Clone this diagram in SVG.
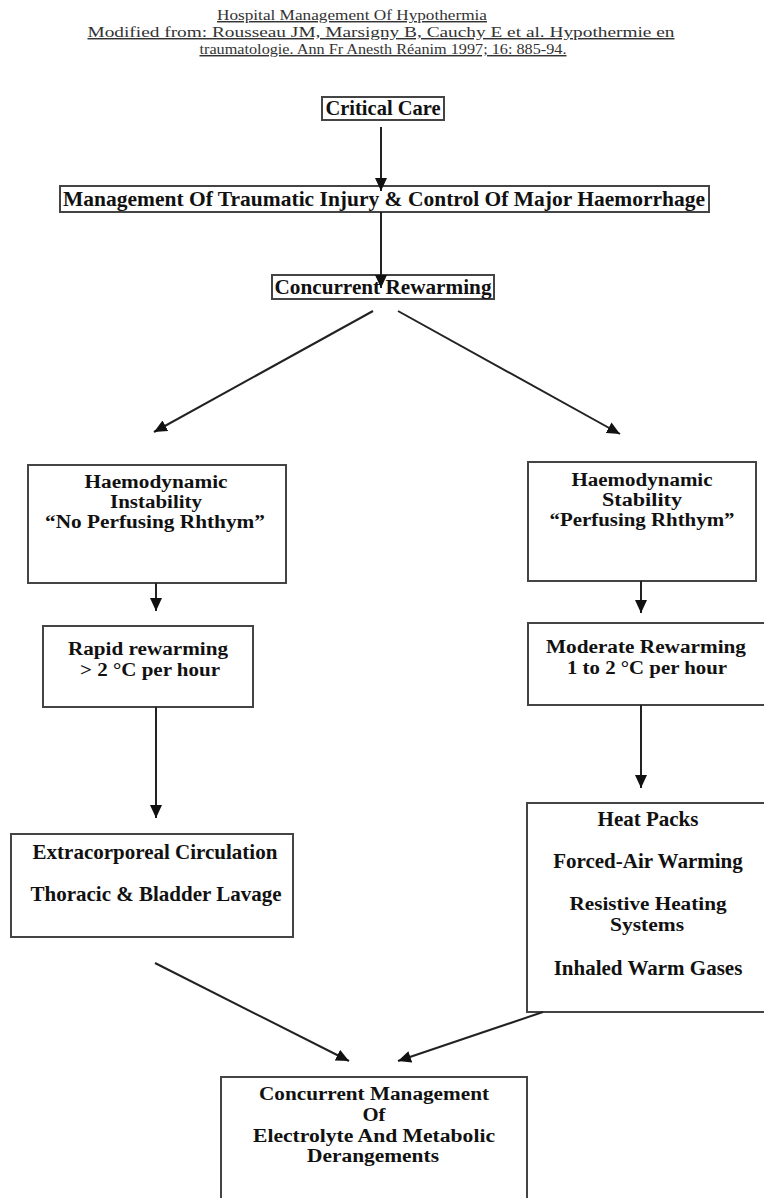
<svg xmlns="http://www.w3.org/2000/svg" width="764" height="1198" viewBox="0 0 764 1198">
<style>
.t{font-family:"Liberation Serif","Times New Roman",serif;font-size:14.5px;fill:#333;text-anchor:middle;text-decoration:underline}
.b{font-family:"Liberation Serif","Times New Roman",serif;font-size:21px;font-weight:bold;fill:#111;text-anchor:middle}
.s{font-size:18px}
.box{fill:#fff;stroke:#444;stroke-width:2}
.c{stroke:#222;stroke-width:2;fill:none;marker-end:url(#ah)}
</style>
<defs>
<marker id="ah" markerUnits="userSpaceOnUse" markerWidth="14" markerHeight="12" refX="13" refY="6" orient="auto">
<path d="M0,0 L13,6 L0,12 z" fill="#111"/>
</marker>
</defs>
<rect width="764" height="1198" fill="#fff"/>
<g id="title">
<text class="t" x="352" y="20" textLength="270" lengthAdjust="spacingAndGlyphs">Hospital Management Of Hypothermia</text>
<text class="t" x="381" y="37" textLength="587" lengthAdjust="spacingAndGlyphs">Modified from: Rousseau JM, Marsigny B, Cauchy E et al. Hypothermie en</text>
<text class="t" x="383" y="54" textLength="367" lengthAdjust="spacingAndGlyphs">traumatologie. Ann Fr Anesth Réanim 1997; 16: 885-94.</text>
</g>
<g id="critical-care">
<rect class="box" x="322" y="97" width="122" height="23"/>
<text class="b" x="383" y="115" textLength="115" lengthAdjust="spacingAndGlyphs">Critical Care</text>
</g>
<g id="management">
<rect class="box" x="60" y="186" width="649" height="26"/>
<text class="b" x="384" y="206" textLength="642" lengthAdjust="spacingAndGlyphs">Management Of Traumatic Injury &amp; Control Of Major Haemorrhage</text>
</g>
<g id="concurrent-rewarming">
<rect class="box" x="272" y="275" width="222" height="24"/>
<text class="b" x="383" y="294" textLength="217" lengthAdjust="spacingAndGlyphs">Concurrent Rewarming</text>
</g>
<g id="instability">
<rect class="box" x="28" y="465" width="258" height="118"/>
<text class="b s" x="156" y="488" textLength="143" lengthAdjust="spacingAndGlyphs">Haemodynamic</text>
<text class="b s" x="156" y="508" textLength="92" lengthAdjust="spacingAndGlyphs">Instability</text>
<text class="b s" x="155" y="528" textLength="220" lengthAdjust="spacingAndGlyphs">“No Perfusing Rhthym”</text>
</g>
<g id="stability">
<rect class="box" x="528" y="462" width="228" height="119"/>
<text class="b s" x="642" y="486" textLength="141" lengthAdjust="spacingAndGlyphs">Haemodynamic</text>
<text class="b s" x="642" y="506" textLength="80" lengthAdjust="spacingAndGlyphs">Stability</text>
<text class="b s" x="642" y="526" textLength="185" lengthAdjust="spacingAndGlyphs">“Perfusing Rhthym”</text>
</g>
<g id="rapid">
<rect class="box" x="43" y="626" width="210" height="81"/>
<text class="b s" x="148" y="655" textLength="160" lengthAdjust="spacingAndGlyphs">Rapid rewarming</text>
<text class="b s" x="150" y="676" textLength="140" lengthAdjust="spacingAndGlyphs">&gt; 2 °C per hour</text>
</g>
<g id="moderate">
<rect class="box" x="528" y="623" width="240" height="82"/>
<text class="b s" x="646" y="653" textLength="200" lengthAdjust="spacingAndGlyphs">Moderate Rewarming</text>
<text class="b s" x="647" y="674" textLength="160" lengthAdjust="spacingAndGlyphs">1 to 2 °C per hour</text>
</g>
<g id="extracorporeal">
<rect class="box" x="11" y="834" width="282" height="103"/>
<text class="b" x="155" y="859">Extracorporeal Circulation</text>
<text class="b" x="156" y="901">Thoracic &amp; Bladder Lavage</text>
</g>
<g id="heat-packs">
<rect class="box" x="527" y="803" width="245" height="209"/>
<text class="b" x="648" y="826">Heat Packs</text>
<text class="b" x="648" y="868">Forced-Air Warming</text>
<text class="b s" x="648" y="910" textLength="157" lengthAdjust="spacingAndGlyphs">Resistive Heating</text>
<text class="b s" x="647" y="931" textLength="74" lengthAdjust="spacingAndGlyphs">Systems</text>
<text class="b" x="648" y="975">Inhaled Warm Gases</text>
</g>
<g id="electrolyte">
<rect class="box" x="221" y="1077" width="306" height="140"/>
<text class="b s" x="374" y="1100" textLength="230" lengthAdjust="spacingAndGlyphs">Concurrent Management</text>
<text class="b s" x="374" y="1121" textLength="23" lengthAdjust="spacingAndGlyphs">Of</text>
<text class="b s" x="374" y="1142" textLength="242" lengthAdjust="spacingAndGlyphs">Electrolyte And Metabolic</text>
<text class="b s" x="373" y="1162" textLength="132" lengthAdjust="spacingAndGlyphs">Derangements</text>
</g>
<g id="connectors">
<line class="c" x1="381" y1="127" x2="381" y2="191"/>
<line class="c" x1="381" y1="212" x2="381" y2="288"/>
<line class="c" x1="373" y1="311" x2="154" y2="432"/>
<line class="c" x1="398" y1="311" x2="620" y2="434"/>
<line class="c" x1="156" y1="583" x2="156" y2="611"/>
<line class="c" x1="641" y1="581" x2="641" y2="613"/>
<line class="c" x1="156" y1="707" x2="156" y2="818"/>
<line class="c" x1="641" y1="705" x2="641" y2="788"/>
<line class="c" x1="155" y1="963" x2="349" y2="1061"/>
<line class="c" x1="543" y1="1012" x2="398" y2="1061"/>
</g>
</svg>
